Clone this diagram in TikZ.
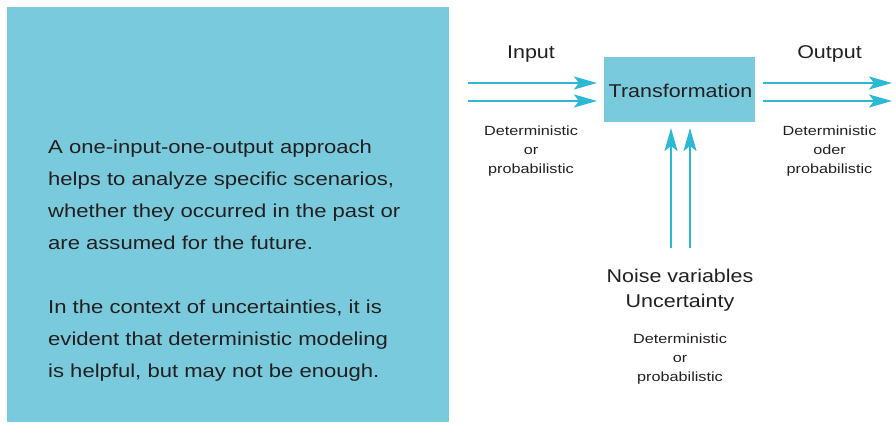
\documentclass[tikz,border=0pt]{standalone}
\usepackage{fontspec}
\setmainfont[FakeStretch=1.16]{Liberation Sans}
\newfontfamily\bodyfont[FakeStretch=1.18]{Liberation Sans}
\newfontfamily\notefont[FakeStretch=1.22]{Liberation Sans}
\usetikzlibrary{arrows.meta}
\definecolor{panel}{HTML}{79CADC}
\definecolor{flow}{HTML}{2CB9D4}
\definecolor{ink}{HTML}{231F20}
\tikzset{
  flowarrow/.style={draw=flow, line width=2pt,
    -{Stealth[length=23pt,width=13pt,inset=5pt]}},
  bigtext/.style={text=ink, font=\fontsize{18.5}{25}\selectfont, inner sep=0pt},
  smalltext/.style={text=ink, font=\notefont\fontsize{13.3}{19}\selectfont, inner sep=0pt, align=center},
}
\begin{document}
\begin{tikzpicture}[x=1pt, y=-1pt]
\useasboundingbox (0,0) rectangle (895,423);

% explanatory panel
\node (panel) [fill=panel, minimum width=442pt, minimum height=415pt, inner sep=0pt, anchor=north west] at (7,7) {};
\node (expl) [bigtext, anchor=base west, align=left,
  font=\bodyfont\fontsize{18.7}{32}\selectfont] at (48,377)
  {A one-input-one-output approach\\
   helps to analyze specific scenarios,\\
   whether they occurred in the past or\\
   are assumed for the future.\\[32pt]
   In the context of uncertainties, it is\\
   evident that deterministic modeling\\
   is helpful, but may not be enough.};

% transformation block
\node (trans) [fill=panel, minimum width=151pt, minimum height=65pt, inner sep=0pt, anchor=north west] at (604,57) {};
\node (translabel) [bigtext, anchor=base] at (680.5,97) {Transformation};

% labels
\node (inlabel) [bigtext, anchor=base] at (531,58) {Input};
\node (outlabel) [bigtext, anchor=base] at (829.5,58) {Output};
\node (inkind) [smalltext, anchor=base] at (531,173) {Deterministic\\or\\probabilistic};
\node (outkind) [smalltext, anchor=base] at (829.5,173) {Deterministic\\oder\\probabilistic};
\node (noise) [bigtext, anchor=base, align=center] at (680,307) {Noise variables\\Uncertainty};
\node (noisekind) [smalltext, anchor=base] at (680,381) {Deterministic\\or\\probabilistic};

% arrow end points
\coordinate (inA) at (468,83);
\coordinate (inB) at (468,101);
\coordinate (inAend) at (597,83);
\coordinate (inBend) at (597,101);
\coordinate (outA) at (763,83);
\coordinate (outB) at (763,101);
\coordinate (outAend) at (892,83);
\coordinate (outBend) at (892,101);
\coordinate (nzA) at (671,248);
\coordinate (nzB) at (690,248);
\coordinate (nzAend) at (671,128);
\coordinate (nzBend) at (690,128);

% flows
\draw[flowarrow] (inA) -- (inAend);
\draw[flowarrow] (inB) -- (inBend);
\draw[flowarrow] (outA) -- (outAend);
\draw[flowarrow] (outB) -- (outBend);
\draw[flowarrow] (nzA) -- (nzAend);
\draw[flowarrow] (nzB) -- (nzBend);
\end{tikzpicture}
\end{document}
